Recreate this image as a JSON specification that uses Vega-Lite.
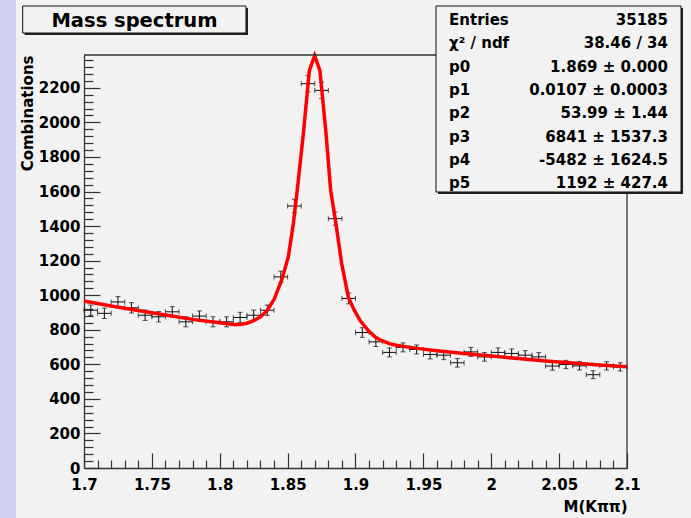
{
  "$schema": "https://vega.github.io/schema/vega-lite/v6.json",
  "width": 543,
  "height": 413,
  "autosize": {"type": "none"},
  "padding": {"left": 84, "top": 55, "right": 64, "bottom": 50},
  "background": "#cfcff5",
  "config": {
    "view": {"fill": "#f2f2f2", "stroke": "#f2f2f2", "strokeWidth": 136},
    "font": "DejaVu Sans",
    "axis": {
      "domainColor": "#333333", "domainWidth": 1.3,
      "tickColor": "#333333", "tickWidth": 1.2,
      "labelFont": "DejaVu Sans", "labelFontWeight": "bold", "labelFontSize": 15, "labelColor": "#000000",
      "titleFont": "DejaVu Sans", "titleFontWeight": "bold", "titleFontSize": 15, "titleColor": "#000000",
      "grid": false, "labelOverlap": false, "labelFlush": false
    }
  },
  "datasets": {
    "hist": [
      {"x":1.705,"xl":1.70,"xh":1.71,"y":913,"lo":883,"hi":943},
      {"x":1.715,"xl":1.71,"xh":1.72,"y":895,"lo":865,"hi":925},
      {"x":1.725,"xl":1.72,"xh":1.73,"y":961,"lo":930,"hi":992},
      {"x":1.735,"xl":1.73,"xh":1.74,"y":927,"lo":897,"hi":957},
      {"x":1.745,"xl":1.74,"xh":1.75,"y":884,"lo":854,"hi":914},
      {"x":1.755,"xl":1.75,"xh":1.76,"y":875,"lo":845,"hi":905},
      {"x":1.765,"xl":1.76,"xh":1.77,"y":904,"lo":874,"hi":934},
      {"x":1.775,"xl":1.77,"xh":1.78,"y":846,"lo":817,"hi":875},
      {"x":1.785,"xl":1.78,"xh":1.79,"y":879,"lo":849,"hi":909},
      {"x":1.795,"xl":1.79,"xh":1.80,"y":846,"lo":817,"hi":875},
      {"x":1.805,"xl":1.80,"xh":1.81,"y":846,"lo":817,"hi":875},
      {"x":1.815,"xl":1.81,"xh":1.82,"y":871,"lo":841,"hi":901},
      {"x":1.825,"xl":1.82,"xh":1.83,"y":884,"lo":854,"hi":914},
      {"x":1.835,"xl":1.83,"xh":1.84,"y":913,"lo":883,"hi":943},
      {"x":1.845,"xl":1.84,"xh":1.85,"y":1106,"lo":1073,"hi":1139},
      {"x":1.855,"xl":1.85,"xh":1.86,"y":1516,"lo":1477,"hi":1555},
      {"x":1.865,"xl":1.86,"xh":1.87,"y":2224,"lo":2177,"hi":2271},
      {"x":1.875,"xl":1.87,"xh":1.88,"y":2185,"lo":2138,"hi":2232},
      {"x":1.885,"xl":1.88,"xh":1.89,"y":1443,"lo":1405,"hi":1481},
      {"x":1.895,"xl":1.89,"xh":1.90,"y":981,"lo":950,"hi":1012},
      {"x":1.905,"xl":1.90,"xh":1.91,"y":784,"lo":756,"hi":812},
      {"x":1.915,"xl":1.91,"xh":1.92,"y":730,"lo":703,"hi":757},
      {"x":1.925,"xl":1.92,"xh":1.93,"y":669,"lo":643,"hi":695},
      {"x":1.935,"xl":1.93,"xh":1.94,"y":698,"lo":672,"hi":724},
      {"x":1.945,"xl":1.94,"xh":1.95,"y":686,"lo":660,"hi":712},
      {"x":1.955,"xl":1.95,"xh":1.96,"y":657,"lo":631,"hi":683},
      {"x":1.965,"xl":1.96,"xh":1.97,"y":653,"lo":627,"hi":679},
      {"x":1.975,"xl":1.97,"xh":1.98,"y":609,"lo":584,"hi":634},
      {"x":1.985,"xl":1.98,"xh":1.99,"y":672,"lo":646,"hi":698},
      {"x":1.995,"xl":1.99,"xh":2.00,"y":643,"lo":618,"hi":668},
      {"x":2.005,"xl":2.00,"xh":2.01,"y":669,"lo":643,"hi":695},
      {"x":2.015,"xl":2.01,"xh":2.02,"y":663,"lo":637,"hi":689},
      {"x":2.025,"xl":2.02,"xh":2.03,"y":653,"lo":627,"hi":679},
      {"x":2.035,"xl":2.03,"xh":2.04,"y":643,"lo":618,"hi":668},
      {"x":2.045,"xl":2.04,"xh":2.05,"y":590,"lo":566,"hi":614},
      {"x":2.055,"xl":2.05,"xh":2.06,"y":599,"lo":575,"hi":623},
      {"x":2.065,"xl":2.06,"xh":2.07,"y":591,"lo":567,"hi":615},
      {"x":2.075,"xl":2.07,"xh":2.08,"y":540,"lo":517,"hi":563},
      {"x":2.085,"xl":2.08,"xh":2.09,"y":591,"lo":567,"hi":615},
      {"x":2.095,"xl":2.09,"xh":2.10,"y":585,"lo":561,"hi":609}
    ],
    "fit": [
      {"x":1.700,"y":966},{"x":1.720,"y":938},{"x":1.740,"y":911},{"x":1.760,"y":885},
      {"x":1.780,"y":860},{"x":1.800,"y":840},{"x":1.810,"y":830},{"x":1.815,"y":830},
      {"x":1.820,"y":838},{"x":1.825,"y":852},{"x":1.830,"y":875},{"x":1.835,"y":912},
      {"x":1.840,"y":975},{"x":1.8456,"y":1087},{"x":1.8505,"y":1221},{"x":1.8542,"y":1414},
      {"x":1.8571,"y":1607},{"x":1.8616,"y":1935},{"x":1.866,"y":2300},{"x":1.8699,"y":2387},
      {"x":1.8738,"y":2300},{"x":1.8783,"y":1935},{"x":1.8817,"y":1607},{"x":1.8856,"y":1414},
      {"x":1.8898,"y":1183},{"x":1.8947,"y":990},{"x":1.899,"y":915},{"x":1.9033,"y":855},
      {"x":1.9094,"y":795},{"x":1.915,"y":755},{"x":1.920,"y":735},{"x":1.925,"y":720},
      {"x":1.930,"y":710},{"x":1.940,"y":698},{"x":1.950,"y":688},{"x":1.960,"y":679},
      {"x":1.980,"y":662},{"x":2.000,"y":648},{"x":2.020,"y":633},{"x":2.040,"y":619},
      {"x":2.060,"y":607},{"x":2.080,"y":596},{"x":2.100,"y":586}
    ]
  },
  "layer": [
    {
      "data": {"name": "hist"},
      "mark": {"type": "rule", "color": "#111111", "strokeWidth": 1},
      "encoding": {
        "x": {
          "field": "x", "type": "quantitative",
          "scale": {"domain": [1.7, 2.1], "nice": false, "zero": false},
          "axis": {
            "values": [1.7,1.71,1.72,1.73,1.74,1.75,1.76,1.77,1.78,1.79,1.8,1.81,1.82,1.83,1.84,1.85,1.86,1.87,1.88,1.89,1.9,1.91,1.92,1.93,1.94,1.95,1.96,1.97,1.98,1.99,2,2.01,2.02,2.03,2.04,2.05,2.06,2.07,2.08,2.09,2.1],
            "tickCount": 500,
            "tickSize": {"condition": {"test": "round(datum.value*100) % 5 == 0", "value": -15}, "value": -8},
            "labelExpr": "round(datum.value*100) % 5 == 0 ? format(datum.value, '~g') : ''",
            "labelPadding": 24,
            "title": "M(K\u03c0\u03c0)",
            "titleAnchor": "end",
            "titlePadding": 0
          }
        },
        "y": {
          "field": "lo", "type": "quantitative",
          "scale": {"domain": [0, 2390], "nice": false, "zero": false},
          "axis": {
            "values": [0,40,80,120,160,200,240,280,320,360,400,440,480,520,560,600,640,680,720,760,800,840,880,920,960,1000,1040,1080,1120,1160,1200,1240,1280,1320,1360,1400,1440,1480,1520,1560,1600,1640,1680,1720,1760,1800,1840,1880,1920,1960,2000,2040,2080,2120,2160,2200,2240,2280,2320,2360],
            "tickCount": 500,
            "tickSize": {"condition": {"test": "datum.value % 200 == 0", "value": -16}, "value": -9},
            "labelExpr": "datum.value % 200 == 0 ? format(datum.value, 'd') : ''",
            "labelPadding": 20,
            "title": "Combinations",
            "titleAnchor": "end",
            "titlePadding": 3
          }
        },
        "y2": {"field": "hi"}
      }
    },
    {
      "data": {"name": "hist"},
      "mark": {"type": "rule", "color": "#111111", "strokeWidth": 1},
      "encoding": {
        "x": {"field": "xl", "type": "quantitative"},
        "x2": {"field": "xh"},
        "y": {"field": "y", "type": "quantitative"}
      }
    },
    {
      "data": {"name": "hist"},
      "transform": [{"fold": ["lo", "hi"], "as": ["end", "yend"]}],
      "mark": {"type": "tick", "orient": "horizontal", "color": "#111111", "size": 5, "thickness": 1},
      "encoding": {
        "x": {"field": "x", "type": "quantitative"},
        "y": {"field": "yend", "type": "quantitative"}
      }
    },
    {
      "data": {"name": "hist"},
      "transform": [{"fold": ["xl", "xh"], "as": ["end", "xend"]}],
      "mark": {"type": "tick", "orient": "vertical", "color": "#111111", "size": 5, "thickness": 1},
      "encoding": {
        "x": {"field": "xend", "type": "quantitative"},
        "y": {"field": "y", "type": "quantitative"}
      }
    },
    {
      "data": {"name": "fit"},
      "mark": {"type": "line", "color": "#ff0000", "strokeWidth": 3.5, "interpolate": "linear"},
      "encoding": {
        "x": {"field": "x", "type": "quantitative"},
        "y": {"field": "y", "type": "quantitative"}
      }
    },
    {
      "data": {"values": [{}]},
      "mark": {"type": "rule", "color": "#333333", "strokeWidth": 1.3},
      "encoding": {"y": {"datum": 2390}}
    },
    {
      "data": {"values": [{}]},
      "mark": {"type": "rule", "color": "#333333", "strokeWidth": 1.3},
      "encoding": {"x": {"datum": 2.1}}
    },
    {
      "data": {"values": [{}]},
      "mark": {"type": "rect", "fill": "#222222", "xOffset": 2, "x2Offset": 2, "yOffset": 2, "y2Offset": 2},
      "encoding": {
        "x": {"datum": 1.9593}, "x2": {"datum": 2.1398},
        "y": {"datum": 2673.5}, "y2": {"datum": 1597.2}
      }
    },
    {
      "data": {"values": [{}]},
      "mark": {"type": "rect", "fill": "#f2f2f2", "stroke": "#111111", "strokeWidth": 1},
      "encoding": {
        "x": {"datum": 1.9593}, "x2": {"datum": 2.1398},
        "y": {"datum": 2673.5}, "y2": {"datum": 1597.2}
      }
    },
    {
      "data": {"values": [{}]},
      "mark": {
        "type": "text", "align": "left", "baseline": "alphabetic",
        "font": "DejaVu Sans", "fontWeight": "bold", "fontSize": 15, "lineHeight": 23.3, "color": "#000000",
        "text": ["Entries", "\u03c7\u00b2 / ndf", "p0", "p1", "p2", "p3", "p4", "p5"]
      },
      "encoding": {"x": {"datum": 1.9689}, "y": {"datum": 2563.6}}
    },
    {
      "data": {"values": [{}]},
      "mark": {
        "type": "text", "align": "right", "baseline": "alphabetic",
        "font": "DejaVu Sans", "fontWeight": "bold", "fontSize": 15, "lineHeight": 23.3, "color": "#000000",
        "text": ["35185", "38.46 / 34", "1.869 \u00b1 0.000", "0.0107 \u00b1 0.0003", "53.99 \u00b1 1.44", "6841 \u00b1 1537.3", "-5482 \u00b1 1624.5", "1192 \u00b1 427.4"]
      },
      "encoding": {"x": {"datum": 2.1302}, "y": {"datum": 2563.6}}
    },
    {
      "data": {"values": [{}]},
      "mark": {"type": "rect", "fill": "#222222", "xOffset": 2, "x2Offset": 2, "yOffset": 2, "y2Offset": 2},
      "encoding": {
        "x": {"datum": 1.65484}, "x2": {"datum": 1.81934},
        "y": {"datum": 2673.5}, "y2": {"datum": 2517.3}
      }
    },
    {
      "data": {"values": [{}]},
      "mark": {"type": "rect", "fill": "#f2f2f2", "stroke": "#111111", "strokeWidth": 1},
      "encoding": {
        "x": {"datum": 1.65484}, "x2": {"datum": 1.81934},
        "y": {"datum": 2673.5}, "y2": {"datum": 2517.3}
      }
    },
    {
      "data": {"values": [{}]},
      "mark": {
        "type": "text", "align": "center", "baseline": "alphabetic",
        "font": "DejaVu Sans", "fontWeight": "bold", "fontSize": 19.5, "color": "#000000",
        "text": "Mass spectrum"
      },
      "encoding": {"x": {"datum": 1.7372}, "y": {"datum": 2554.9}}
    }
  ]
}
